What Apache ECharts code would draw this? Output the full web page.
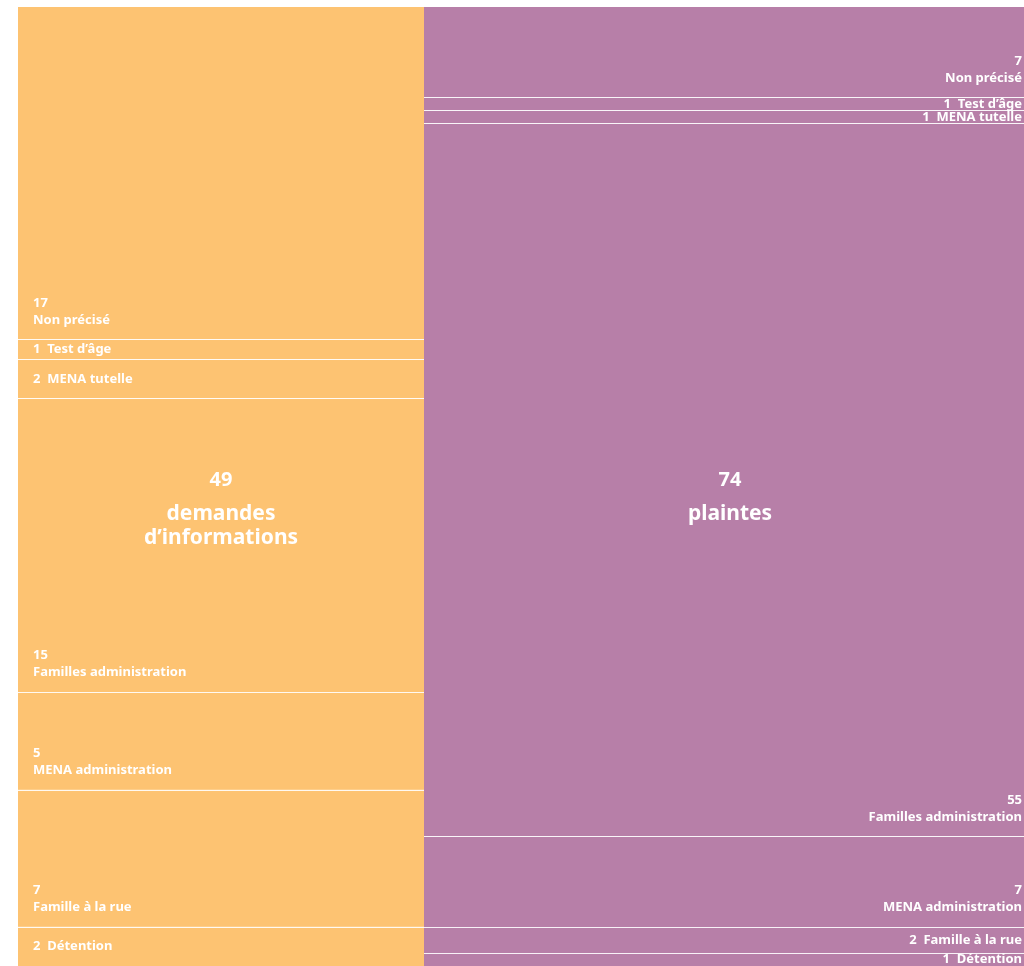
<!DOCTYPE html>
<html>
<head>
<meta charset="utf-8">
<script src="https://cdn.jsdelivr.net/npm/echarts@6/dist/echarts.min.js"></script>
<style>html,body{margin:0;padding:0;background:#fff;}#c{width:1024px;height:966px;}</style>
</head>
<body>
<div id="c"></div>
<script>
const categories = ['Non précisé', 'Test d’âge', 'MENA tutelle', 'Familles administration', 'MENA administration', 'Famille à la rue', 'Détention'];
const demandes = [17, 1, 2, 15, 5, 7, 2];
const plaintes = [7, 1, 1, 55, 7, 2, 1];
const groupNames = ['demandes\nd’informations', 'plaintes'];

const ORANGE = '#FDC372';
const PURPLE = '#B77FA8';
const FONT = '"Noto Sans", sans-serif';

const groups = [
  { values: demandes, color: ORANGE, side: 'left' },
  { values: plaintes, color: PURPLE, side: 'right' }
];

const grids = [
  { left: 18, top: 7, width: 406, height: 959 },
  { left: 424, top: 7, width: 612, height: 959 }
];

const xAxes = [], yAxes = [], series = [];
groups.forEach((g, gi) => {
  const total = g.values.reduce((a, b) => a + b, 0);
  g.total = total;
  xAxes.push({ type: 'category', gridIndex: gi, data: [''], show: false });
  yAxes.push({ type: 'value', gridIndex: gi, min: 0, max: total, inverse: true, show: false });
  const bounds = [];
  let cum = 0;
  g.values.forEach((v, i) => {
    cum += v;
    if (i < g.values.length - 1) bounds.push({ yAxis: cum });
    const small = v / total * 959 < 45;
    const isLeft = g.side === 'left';
    series.push({
      type: 'bar',
      name: categories[i],
      xAxisIndex: gi,
      yAxisIndex: gi,
      stack: 'g' + gi,
      barWidth: '100%',
      barGap: 0,
      data: [v],
      itemStyle: { color: g.color },
      silent: true,
      label: {
        show: true,
        position: small ? (isLeft ? 'insideLeft' : 'insideRight') : (isLeft ? 'insideBottomLeft' : 'insideBottomRight'),
        distance: 0,
        padding: small ? (isLeft ? [1, 0, 0, 15] : [1, 2, 0, 0]) : (isLeft ? [0, 0, 11, 15] : [0, 2, 11, 0]),
        color: '#fff',
        fontFamily: FONT,
        fontWeight: 'bold',
        fontSize: 13,
        lineHeight: 17,
        align: isLeft ? 'left' : 'right',
        formatter: () => small ? (v + '  ' + categories[i]) : (v + '\n' + categories[i])
      },
      markLine: i === g.values.length - 1 ? {
        silent: true,
        symbol: 'none',
        label: { show: false },
        lineStyle: { color: '#fff', width: 1, type: 'solid', opacity: 0.9 },
        data: bounds
      } : undefined
    });
  });
});

const graphic = [];
groups.forEach((g, gi) => {
  const cx = grids[gi].left + grids[gi].width / 2;
  graphic.push({
    type: 'text', x: cx, y: 480, z: 100,
    style: { text: String(g.total), fill: '#fff', font: 'bold 20px ' + FONT, textAlign: 'center', textVerticalAlign: 'middle' }
  });
  graphic.push({
    type: 'text', x: cx, y: 502, z: 100,
    style: { text: groupNames[gi], fill: '#fff', font: 'bold 21px ' + FONT, lineHeight: 24, textAlign: 'center', textVerticalAlign: 'top' }
  });
});

const chart = echarts.init(document.getElementById('c'), null, { renderer: 'canvas' });
chart.setOption({
  animation: false,
  backgroundColor: '#fff',
  grid: grids,
  xAxis: xAxes,
  yAxis: yAxes,
  series: series,
  graphic: graphic
});
</script>
</body>
</html>
